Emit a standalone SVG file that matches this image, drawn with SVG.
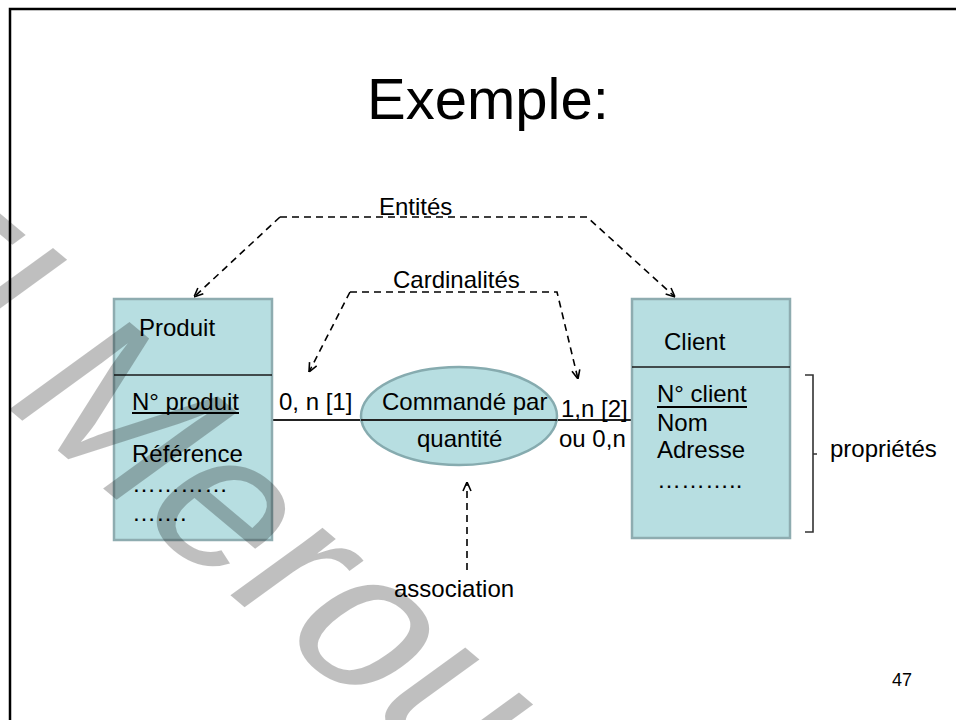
<svg xmlns="http://www.w3.org/2000/svg" width="956" height="720" viewBox="0 0 956 720">
<defs>
<style>
text{font-family:"Liberation Sans",Arial,sans-serif;font-size:24px;fill:#000}
.box{fill:#b7dee1;stroke:#8eacb0;stroke-width:2.5}
.div{stroke:#1a1a1a;stroke-width:1.5}
.dash{fill:none;stroke:#000;stroke-width:1.6;stroke-dasharray:7 5}
.link{stroke:#222;stroke-width:2}
.ul{stroke:#000;stroke-width:2}
.wm{font-size:210px;fill:#000;fill-opacity:0.25}
</style>
<marker id="arr" viewBox="0 0 10 10" refX="10" refY="5" markerWidth="10" markerHeight="10" markerUnits="userSpaceOnUse" orient="auto">
<path d="M1,1 L10,5 L1,9" fill="none" stroke="#000" stroke-width="1.6"/>
</marker>
</defs>
<rect width="956" height="720" fill="#fff"/>
<path d="M10,722 L10,9 L958,9" fill="none" stroke="#000" stroke-width="2.5"/>
<text x="488" y="119" text-anchor="middle" style="font-size:58px">Exemple:</text>

<g id="connectors">
<line class="link" x1="273" y1="420" x2="632" y2="420"/>
<polyline class="dash" points="280,217 587,217 675,297" marker-end="url(#arr)"/>
<polyline class="dash" points="280,217 194,297" marker-end="url(#arr)"/>
<polyline class="dash" points="350,292 557,292 578,379" marker-end="url(#arr)"/>
<polyline class="dash" points="350,292 309,372" marker-end="url(#arr)"/>
<line class="dash" x1="467" y1="570" x2="467" y2="482" marker-end="url(#arr)"/>
<path d="M805,375 L813,375 L813,532 L805,532 M813,454 L817,454" fill="none" stroke="#333" stroke-width="1.6"/>
</g>

<g id="produit">
<rect class="box" x="114" y="299" width="158" height="241"/>
<line class="div" x1="114" y1="375" x2="272" y2="375"/>
<text x="139" y="336">Produit</text>
<text x="132" y="410">N° produit</text>
<line class="ul" x1="132" y1="413" x2="239" y2="413"/>
<text x="132" y="462">Référence</text>
<text x="132" y="492">…………</text>
<text x="132" y="521">…….</text>
</g>

<g id="client">
<rect class="box" x="632" y="299" width="158" height="239"/>
<line class="div" x1="632" y1="367" x2="790" y2="367"/>
<text x="664" y="350">Client</text>
<text x="657" y="402">N° client</text>
<line class="ul" x1="657" y1="407" x2="747" y2="407"/>
<text x="657" y="431">Nom</text>
<text x="657" y="458">Adresse</text>
<text x="657" y="488">………..</text>
</g>

<g id="association">
<ellipse cx="459" cy="416" rx="98" ry="49" fill="#b7dee1" stroke="#86abaf" stroke-width="2.5"/>
<line class="link" x1="361" y1="420" x2="557" y2="420"/>
<text x="382" y="410">Commandé par</text>
<text x="417" y="447">quantité</text>
</g>

<g id="labels">
<text x="379" y="215">Entités</text>
<text x="393" y="288">Cardinalités</text>
<text x="279" y="410">0, n [1]</text>
<text x="561" y="417">1,n [2]</text>
<text x="559" y="447">ou 0,n</text>
<text x="830" y="457">propriétés</text>
<text x="394" y="597">association</text>
<text x="892" y="686" style="font-size:18px">47</text>
</g>

<text class="wm" transform="translate(-192,241) rotate(40) skewX(-14)">El Merouani</text>
</svg>
